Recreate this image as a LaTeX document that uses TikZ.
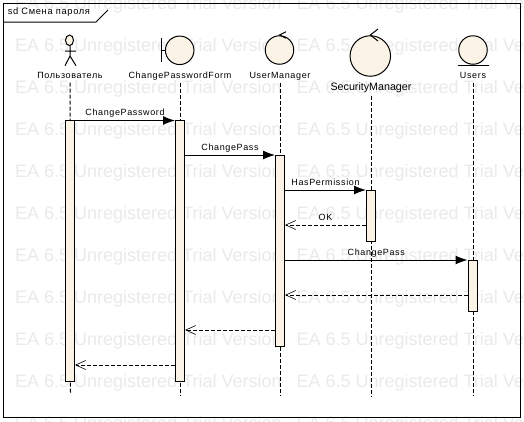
\documentclass[tikz,border=0pt]{standalone}
\usepackage{fontspec}
\setmainfont{Liberation Sans}
\newfontfamily\spacedfont[LetterSpace=7]{Liberation Sans}
\usepackage{xcolor}
\usetikzlibrary{arrows.meta,positioning,calc}
\definecolor{barfill}{HTML}{FBF3E6}
\definecolor{markgray}{HTML}{EAEAEA}

\begin{document}
\begin{tikzpicture}[
  x=1pt, y=-1pt, line width=1pt,
  watermark/.style={anchor=west, inner sep=0pt, font=\fontsize{18}{18}\selectfont, text=markgray},
  robust/.style={draw, circle, fill=barfill, inner sep=0pt},
  lifename/.style={inner sep=0pt, inner ysep=2pt, text height=7pt, text depth=2pt, font=\fontsize{9}{9}\spacedfont},
  bar/.style={draw, fill=barfill, inner sep=0pt, minimum width=9pt},
  life/.style={dash pattern=on 4pt off 2pt},
  call/.style={-{Latex[length=12pt,width=9pt]}},
  reply/.style={dash pattern=on 4pt off 2pt, -{Straight Barb[length=10pt,width=9pt,line width=.6pt]}},
  msgname/.style={above=2.5pt, inner sep=0pt, text height=7pt, text depth=2pt, font=\fontsize{9}{9}\spacedfont},
]
\clip (0,0) rectangle (524,421);
\fill[white] (0,0) rectangle (524,421);

% background text
\foreach \py in {5,47,89,131,173,215,257,299,341,383,425}
  \foreach \px in {14.7,296}
    \node[watermark] (mark\px-\py) at (\px,\py) {EA 6.5 Unregistered Trial Version};

% frame
\draw (3.5,3.5) rectangle (520.5,417);
\draw (3.5,22) -- (96,22) -- (108,10);
\node[anchor=west, inner sep=0pt, font=\fontsize{9.3}{9.3}\spacedfont] (title) at (7.3,12) {sd Смена пароля};

% heads
\draw (70,45.7) -- (70,56) (65,51) -- (76,51) (65,65.7) -- (70,56) -- (76,65.7);
\draw[fill=barfill] (69.5,40.3) ellipse (4 and 5.3);
\draw (161.7,38) -- (161.7,62) (161.7,50) -- (166,50);
\node[robust, minimum size=28.5pt] (formhead) at (179.7,50.3) {};
\node[robust, minimum size=28.5pt] (mgrhead) at (279.5,50) {};
\draw (286,31.7) -- (279.5,35) -- (286,38.3);
\node[robust, minimum size=40.5pt] (sechead) at (370.3,56) {};
\draw (378,29) -- (370.3,35) -- (378,41);
\node[robust, minimum size=28.5pt] (usershead) at (473,50) {};
\draw (458,65.3) -- (488.7,65.3);

% names
\node[lifename] (user) at (70,75.6) {Пользователь};
\node[lifename] (form) at (180,75.6) {ChangePasswordForm};
\node[lifename] (mgr) at (280,75.6) {UserManager};
\node[inner sep=0pt, inner ysep=2pt, text height=7.5pt, text depth=2.5pt, font=\fontsize{10.7}{10.7}\selectfont] (sec) at (371,88) {SecurityManager};
\node[lifename] (users) at (473,75.6) {Users};

% lifelines
\coordinate (userend) at (70.5,393);
\coordinate (formend) at (180,396);
\coordinate (mgrend) at (280,396);
\coordinate (secend) at (371,396);
\coordinate (usersend) at (473,396);
\foreach \a in {user,form,mgr,sec,users}
  \draw[life] (\a.south) -- (\a end);

% activations
\node[bar, minimum height=260.5pt] (userbar) at (70,250.75) {};
\node[bar, minimum height=260.5pt] (formbar) at (180,250.75) {};
\node[bar, minimum height=191pt] (mgrbar) at (280,250.5) {};
\node[bar, minimum height=51pt] (secbar) at (371,215.5) {};
\node[bar, minimum height=51pt] (usersbar) at (472.5,285.5) {};

% messages
\foreach \a/\b/\py/\txt in {userbar/formbar/120.5/ChangePassword,formbar/mgrbar/155/ChangePass,mgrbar/secbar/190/HasPermission,mgrbar/usersbar/260/ChangePass}
  \draw[call] (\a.east |- 0,\py) -- node[msgname] (label\py) {\txt} (\b.west |- 0,\py);
\draw[reply] (secbar.west |- 0,225) -- node[msgname] (labelok) {OK} (mgrbar.east |- 0,225);
\foreach \a/\b/\py in {usersbar/mgrbar/295,mgrbar/formbar/330,formbar/userbar/365}
  \draw[reply] (\a.west |- 0,\py) -- (\b.east |- 0,\py);
\end{tikzpicture}
\end{document}
